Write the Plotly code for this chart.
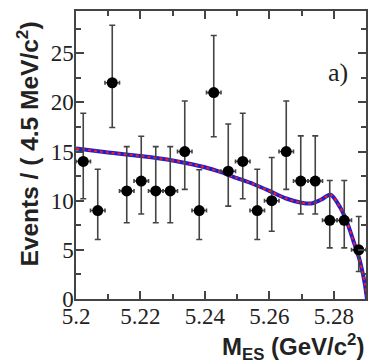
import plotly.graph_objects as go

# Data
bin_centers = [5.20225, 5.20675, 5.21125, 5.21575, 5.22025, 5.22475, 5.22925, 5.23375,
               5.23825, 5.24275, 5.24725, 5.25175, 5.25625, 5.26075, 5.26525, 5.26975,
               5.27425, 5.27875, 5.28325, 5.28775]
events = [14, 9, 22, 11, 12, 11, 11, 15, 9, 21, 13, 14, 9, 10, 15, 12, 12, 8, 8, 5]
err_up = [4.9, 4.2, 5.85, 4.5, 4.55, 4.5, 4.5, 5.15, 4.15, 5.8, 4.8, 4.9, 4.2, 4.4, 5.15, 4.6, 4.6, 4.05, 4.05, 3.4]
err_down = [3.8, 2.95, 4.55, 3.25, 3.35, 3.25, 3.25, 3.85, 2.95, 4.5, 3.55, 3.8, 2.95, 3.1, 3.85, 3.35, 3.35, 2.8, 2.8, 2.2]
half_bin = [0.00225] * len(bin_centers)

fit_x = [5.200, 5.210, 5.220, 5.230, 5.240, 5.245, 5.250, 5.255, 5.260, 5.265, 5.270,
         5.273, 5.276, 5.279, 5.282, 5.284, 5.286, 5.288, 5.289, 5.2897, 5.2903]
fit_y = [15.3, 14.9, 14.55, 14.1, 13.4, 12.9, 12.3, 11.7, 11.0, 10.25, 9.8,
         9.72, 10.1, 10.6, 9.3, 7.9, 6.0, 4.0, 2.6, 1.4, 0.0]

x_ticks = [5.20, 5.22, 5.24, 5.26, 5.28]
y_ticks = [0, 5, 10, 15, 20, 25]

fig = go.Figure()

fig.add_trace(go.Scatter(
    x=fit_x, y=fit_y, mode="lines",
    line=dict(color="#1f1fd0", width=4, shape="spline", smoothing=0.8),
    hoverinfo="skip", showlegend=False))
fig.add_trace(go.Scatter(
    x=fit_x, y=fit_y, mode="lines",
    line=dict(color="#ff1a1a", width=2, dash="3px,3px", shape="spline", smoothing=0.8),
    hoverinfo="skip", showlegend=False))

fig.add_trace(go.Scatter(
    x=bin_centers, y=events, mode="markers",
    marker=dict(color="black", size=11, symbol="circle"),
    error_y=dict(type="data", symmetric=False, array=err_up, arrayminus=err_down,
                 color="#444444", thickness=1.6, width=3),
    error_x=dict(type="data", array=half_bin, color="#444444", thickness=1.6, width=2),
    showlegend=False, cliponaxis=False))

axis_common = dict(
    showgrid=False, zeroline=False, showline=True, linecolor="#444444", linewidth=1.5,
    mirror="allticks", ticks="inside", tickcolor="#444444", tickwidth=1.5, ticklen=8,
    tickfont=dict(family="Liberation Serif", size=23, color="#222222"),
)

fig.update_xaxes(range=[5.2, 5.29], tickvals=x_ticks, ticktext=["5.2", "5.22", "5.24", "5.26", "5.28"],
                 minor=dict(dtick=0.01, tick0=5.2, ticks="inside", ticklen=5, tickcolor="#444444", tickwidth=1.5),
                 ticklabelstandoff=-4, **axis_common)
fig.update_yaxes(range=[0, 29.3], tickvals=y_ticks,
                 minor=dict(dtick=2.5, tick0=0, ticks="inside", ticklen=5, tickcolor="#444444", tickwidth=1.5),
                 ticklabelstandoff=-4, **axis_common)

fig.add_annotation(
    text="Events / ( 4.5 MeV/c<sup>2</sup>)", textangle=-90,
    xref="paper", yref="paper", x=-0.168, y=0.105, xanchor="center", yanchor="bottom",
    showarrow=False, font=dict(family="Liberation Sans", size=24.5, color="#222222", weight="bold"))
fig.add_annotation(
    text="M<sub>ES</sub> (GeV/c<sup>2</sup>)",
    xref="paper", yref="paper", x=1.0, y=-0.165, xanchor="right", yanchor="middle",
    showarrow=False, font=dict(family="Liberation Sans", size=24, color="#222222", weight="bold"))
fig.add_annotation(
    text="a)", xref="paper", yref="paper", x=0.905, y=0.785, xanchor="center", yanchor="middle",
    showarrow=False, font=dict(family="Liberation Serif", size=26, color="#222222"))

fig.update_layout(
    width=369, height=360,
    margin=dict(l=76, r=1, t=11, b=61),
    paper_bgcolor="white", plot_bgcolor="white",
)

fig.write_html("out.html", config={"displayModeBar": False},
               post_script="document.body.style.margin='0';document.body.style.overflow='hidden';")
